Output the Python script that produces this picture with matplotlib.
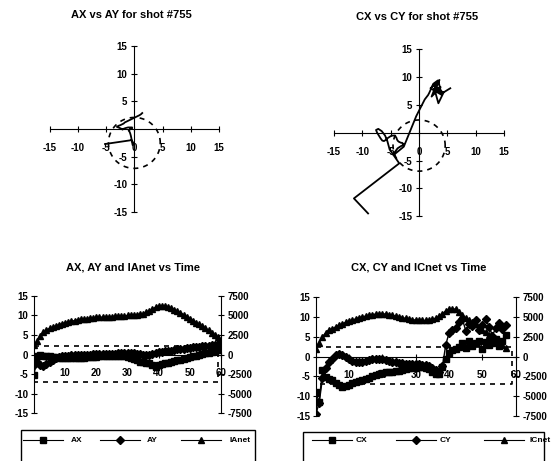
import matplotlib
matplotlib.use("Agg")
import matplotlib.pyplot as plt
import numpy as np
from matplotlib.lines import Line2D
from matplotlib.patches import Rectangle

plt.rcParams["font.family"] = ["Liberation Sans", "DejaVu Sans"]
plt.rcParams["font.weight"] = "bold"
plt.rcParams["axes.unicode_minus"] = False

# shot #755, A probe (t = 0..60)
time_a = list(range(61))
ax_vals = [-5.2, -0.5, -0.1, -0.3, -0.4, -0.5, -0.6, -0.7, -0.8, -0.9,
           -1.0, -1.0, -1.0, -0.9, -0.9, -0.8, -0.8, -0.7, -0.7, -0.6,
           -0.6, -0.5, -0.5, -0.5, -0.4, -0.4, -0.4, -0.4, -0.5, -0.5,
           -0.6, -0.8, -1.1, -1.5, -1.8, -2.0, -2.1, -2.2, -2.6, -3.1,
           -2.8, -2.5, -2.3, -2.1, -1.9, -1.7, -1.5, -1.3, -1.1, -0.9,
           -0.7, -0.5, -0.3, -0.1, 0.1, 0.3, 0.5, 0.7, 0.9, 1.2, 1.4]
ay_vals = [-2.7, -2.0, -2.6, -2.9, -2.4, -1.8, -1.3, -0.9, -0.6, -0.4,
           -0.3, -0.3, -0.2, -0.2, -0.1, -0.1, 0.0, 0.0, 0.0, 0.1,
           0.1, 0.1, 0.1, 0.2, 0.2, 0.2, 0.2, 0.3, 0.3, 0.3,
           0.3, 0.3, 0.3, 0.2, 0.1, 0.0, -0.1, 0.0, 0.2, 0.4,
           0.6, 0.7, 0.8, 0.9, 1.0, 1.2, 1.3, 1.4, 1.5, 1.6,
           1.7, 1.8, 1.9, 2.0, 2.1, 2.2, 2.3, 2.4, 2.5, 2.7, 2.9]
ianet = [1250, 1750, 2350, 2850, 3150, 3350, 3500, 3650, 3800, 3950,
         4050, 4150, 4250, 4350, 4400, 4500, 4550, 4600, 4650, 4700,
         4750, 4750, 4800, 4800, 4850, 4850, 4900, 4900, 4950, 4950,
         5000, 5000, 5050, 5100, 5150, 5250, 5400, 5600, 5850, 6050,
         6200, 6250, 6200, 6100, 5950, 5750, 5550, 5350, 5100, 4850,
         4600, 4350, 4100, 3850, 3600, 3350, 3100, 2800, 2500, 2200, 1800]

# shot #755, C probe (t = 0..57)
time_c = list(range(58))
cx_vals = [-9.0, -11.5, -3.5, -5.2, -5.6, -6.0, -6.6, -7.2, -7.6, -7.4,
           -7.1, -6.8, -6.5, -6.2, -5.9, -5.6, -5.3, -5.0, -4.7, -4.4,
           -4.2, -4.0, -3.9, -3.8, -3.7, -3.6, -3.4, -3.2, -3.0, -2.9,
           -2.8, -2.7, -2.7, -2.8, -3.2, -3.8, -4.3, -4.5, -2.7, -0.5,
           1.0, 1.6, 1.8, 2.5, 3.3, 2.2, 3.8, 2.6, 3.4, 4.0,
           2.0, 3.6, 2.8, 3.4, 4.3, 2.6, 3.9, 5.5]
cy_vals = [-14.5, -11.8, -5.5, -3.0, -1.5, -0.5, 0.3, 0.7, 0.5, 0.0,
           -0.5, -1.0, -1.4, -1.5, -1.3, -1.0, -0.8, -0.6, -0.5, -0.5,
           -0.6, -0.9, -1.2, -1.4, -1.5, -1.6, -1.7, -1.8, -1.8, -1.9,
           -2.0, -2.0, -2.1, -2.2, -2.4, -2.8, -3.5, -4.0, -2.5, 3.0,
           6.0, 6.8, 7.2, 8.8, 9.4, 6.5, 8.2, 7.8, 9.3, 6.8,
           8.0, 9.5, 7.5, 5.3, 7.2, 8.5, 7.0, 8.0]
icnet = [1000, 1750, 2500, 3000, 3400, 3500, 3750, 3950, 4150, 4300,
         4450, 4600, 4750, 4900, 5000, 5100, 5200, 5300, 5350, 5400,
         5400, 5350, 5300, 5200, 5100, 5000, 4900, 4800, 4700, 4650,
         4600, 4550, 4550, 4550, 4600, 4700, 4850, 5050, 5400, 5750,
         6000, 6050, 5950, 5650, 5250, 4850, 4550, 4300, 4050, 3700,
         3350, 3050, 2700, 2350, 2050, 1700, 1400, 1100]

# dashed reference circles (centre x, centre y, radius)
circle_a = (0.0, -2.5, 4.6)
circle_c = (0.0, -2.3, 4.6)

fig = plt.figure(figsize=(5.54, 4.61), dpi=100)


def scatter_axes(rect):
    ax = fig.add_axes(rect)
    ax.patch.set_visible(False)
    ax.set_xlim(-15, 15)
    ax.set_ylim(-15, 15)
    for s in ["top", "right"]:
        ax.spines[s].set_visible(False)
    ax.spines["left"].set_position("zero")
    ax.spines["bottom"].set_position("zero")
    ax.set_xticks([-15, -10, -5, 0, 5, 10, 15])
    ax.set_yticks([-15, -10, -5, 5, 10, 15])
    ax.tick_params(axis="x", direction="inout", length=4, width=0.8,
                   labelsize=7, pad=8)
    ax.tick_params(axis="y", direction="inout", length=4, width=0.8,
                   labelsize=7, pad=3)
    return ax


def draw_circle(ax, circ):
    theta = np.linspace(0, 2 * np.pi, 120)
    ax.plot(circ[0] + circ[2] * np.cos(theta), circ[1] + circ[2] * np.sin(theta),
            color="k", lw=1.2, dashes=(3, 3))


def time_axes(rect, circ, xend):
    ax = fig.add_axes(rect)
    ax.patch.set_visible(False)
    ax.set_xlim(0, 60)
    ax.set_ylim(-15, 15)
    for s in ["top", "right"]:
        ax.spines[s].set_visible(False)
    ax.spines["bottom"].set_position("zero")
    ax.set_xticks([10, 20, 30, 40, 50, 60])
    ax.set_yticks([-15, -10, -5, 0, 5, 10, 15])
    ax.tick_params(axis="x", direction="inout", length=4, width=0.8,
                   labelsize=7, pad=8)
    ax.tick_params(axis="y", direction="inout", length=4, width=0.8,
                   labelsize=7, pad=2)
    top = circ[1] + circ[2]
    bot = circ[1] - circ[2]
    ax.plot([0, xend, xend, 0], [top, top, bot, bot], color="k", lw=1.2,
            dashes=(3, 3))
    ax2 = ax.twinx()
    ax2.set_ylim(-7500, 7500)
    for s in ["top", "left", "bottom"]:
        ax2.spines[s].set_visible(False)
    ax2.set_yticks([-7500, -5000, -2500, 0, 2500, 5000, 7500])
    ax2.tick_params(axis="y", direction="inout", length=4, width=0.8,
                    labelsize=7, pad=3)
    return ax, ax2


# AX vs AY
ax1 = scatter_axes([0.090, 0.540, 0.305, 0.360])
draw_circle(ax1, circle_a)
ax1.plot(ax_vals, ay_vals, color="k", lw=1.3)

# CX vs CY
ax3 = scatter_axes([0.603, 0.531, 0.307, 0.362])
draw_circle(ax3, circle_c)
ax3.plot(cx_vals, cy_vals, color="k", lw=1.3)

mk = dict(color="k", lw=1.0, markersize=4.5)

# AX, AY, IAnet vs time
bl, bl2 = time_axes([0.0614, 0.104, 0.3375, 0.254], circle_a, 59)
bl.plot(time_a, ax_vals, marker="s", **mk)
bl.plot(time_a, ay_vals, marker="D", **mk)
bl2.plot(time_a, ianet, marker="^", **mk)

# CX, CY, ICnet vs time
br, br2 = time_axes([0.570, 0.0976, 0.361, 0.258], circle_c, 58.8)
br.plot(time_c, cx_vals, marker="s", **mk)
br.plot(time_c, cy_vals, marker="D", **mk)
br2.plot(time_c, icnet, marker="^", **mk)

# titles
fig.text(0.238, 0.967, "AX vs AY for shot #755", ha="center", va="center",
         fontsize=8, fontweight="bold")
fig.text(0.753, 0.963, "CX vs CY for shot #755", ha="center", va="center",
         fontsize=8, fontweight="bold")
fig.text(0.240, 0.419, "AX, AY and IAnet vs Time", ha="center", va="center",
         fontsize=8, fontweight="bold")
fig.text(0.755, 0.419, "CX, CY and ICnet vs Time", ha="center", va="center",
         fontsize=8, fontweight="bold")

# legend boxes, drawn by hand in figure pixels
W, H = 554.0, 461.0


def legend_box(x0, x1, ytop, entries):
    fig.add_artist(Rectangle((x0 / W, -0.05), (x1 - x0) / W, (H - ytop) / H + 0.05,
                             transform=fig.transFigure, fill=False, lw=1.0,
                             edgecolor="k"))
    yc = 1 - 440 / H
    for xm, marker, label, xt in entries:
        fig.add_artist(Line2D([(xm - 20) / W, xm / W, (xm + 20) / W], [yc, yc, yc],
                              transform=fig.transFigure, color="k", lw=0.8,
                              marker=marker, markevery=[1], markersize=4))
        fig.text(xt / W, yc, label, ha="left", va="center", fontsize=6,
                 fontweight="bold")


legend_box(21, 255, 430, [(43, "s", "AX", 71), (120, "D", "AY", 147),
                          (201, "^", "IAnet", 229)])
legend_box(303, 544, 432, [(332, "s", "CX", 356), (416, "D", "CY", 440),
                           (504, "^", "ICnet", 529)])

fig.savefig("out.png", dpi=100)
